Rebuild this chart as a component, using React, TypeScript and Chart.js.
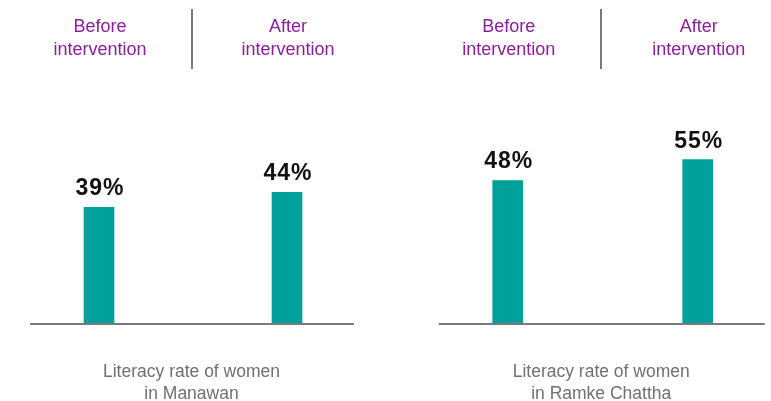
import React, { useEffect, useRef } from "react";
import { Chart, registerables } from "chart.js";

Chart.register(...registerables);

const periods = ["Before intervention", "After intervention"];
const manawanValues = [39, 44];
const ramkeValues = [48, 55];
const manawanCaption = ["Literacy rate of women", "in Manawan"];
const ramkeCaption = ["Literacy rate of women", "in Ramke Chattha"];

const TEAL = "#00A19A";
const PURPLE = "#8B1E99";
const GRAY_TEXT = "#707070";
const GRAY_LINE = "#7A7A7A";
const FONT = '"Liberation Sans", Arial, Helvetica, sans-serif';

type PanelProps = {
  values: number[];
  caption: string[];
  left: number;
  width: number;
  padLeft: number;
  padRight: number;
};

function makePlugin(caption: string[]) {
  return {
    id: "panelDecor",
    afterDatasetsDraw(chart: any) {
      const ctx = chart.ctx as CanvasRenderingContext2D;
      const area = chart.chartArea;
      const xs = chart.scales.x;
      const ys = chart.scales.y;
      const meta = chart.getDatasetMeta(0);
      const mid = (area.left + area.right) / 2 - 1.5;
      ctx.save();
      // baseline
      const y0 = ys.getPixelForValue(0);
      ctx.strokeStyle = GRAY_LINE;
      ctx.lineWidth = 2;
      ctx.beginPath();
      ctx.moveTo(area.left - 69, y0 + 0.5);
      ctx.lineTo(area.right + 67, y0 + 0.5);
      ctx.stroke();
      // divider
      ctx.beginPath();
      ctx.moveTo(Math.round(mid) + 0.0, 9);
      ctx.lineTo(Math.round(mid) + 0.0, 69);
      ctx.stroke();
      // headers
      ctx.fillStyle = PURPLE;
      ctx.font = `18px ${FONT}`;
      ctx.textAlign = "center";
      ctx.textBaseline = "alphabetic";
      chart.data.labels.forEach((lab: string, i: number) => {
        const x = xs.getPixelForValue(i) + 1;
        const words = lab.split(" ");
        words.forEach((w: string, j: number) => {
          ctx.fillText(w, x, 32 + j * 23);
        });
      });
      // value labels
      ctx.fillStyle = "#111111";
      ctx.font = `bold 23px ${FONT}`;
      (ctx as any).letterSpacing = "1px";
      meta.data.forEach((el: any, i: number) => {
        const v = chart.data.datasets[0].data[i];
        ctx.fillText(`${v}%`, el.x + 1, el.y - 12);
      });
      (ctx as any).letterSpacing = "0px";
      // caption
      ctx.fillStyle = GRAY_TEXT;
      ctx.font = `17.5px ${FONT}`;
      caption.forEach((line, j) => {
        ctx.fillText(line, mid, 377 + j * 22);
      });
      ctx.restore();
    },
  };
}

function Panel({ values, caption, left, width, padLeft, padRight }: PanelProps) {
  const ref = useRef<HTMLCanvasElement | null>(null);
  useEffect(() => {
    if (!ref.current) return;
    const chart = new Chart(ref.current, {
      type: "bar",
      data: {
        labels: periods,
        datasets: [
          {
            data: values,
            backgroundColor: TEAL,
            barThickness: 30,
            borderWidth: 0,
            clip: false as any,
          },
        ],
      },
      options: {
        responsive: false,
        animation: false,
        devicePixelRatio: 1,
        layout: {
          padding: { left: padLeft, right: padRight, top: 25.5, bottom: 77.5 },
        },
        plugins: {
          legend: { display: false },
          tooltip: { enabled: false },
          title: { display: false },
        },
        scales: {
          x: { display: false, offset: false },
          y: { display: false, min: 0, max: 100 },
        },
      },
      plugins: [makePlugin(caption)],
    });
    return () => chart.destroy();
  }, []);
  return (
    <canvas
      ref={ref}
      width={width}
      height={401}
      style={{ position: "absolute", left, top: 0, width, height: 401 }}
    />
  );
}

export default function App() {
  return (
    <div
      style={{
        position: "absolute",
        left: 0,
        top: 0,
        width: 771,
        height: 401,
        background: "#ffffff",
        overflow: "hidden",
      }}
    >
      <Panel values={manawanValues} caption={manawanCaption} left={0} width={386} padLeft={99} padRight={99} />
      <Panel values={ramkeValues} caption={ramkeCaption} left={385} width={386} padLeft={122.7} padRight={73.3} />
    </div>
  );
}
